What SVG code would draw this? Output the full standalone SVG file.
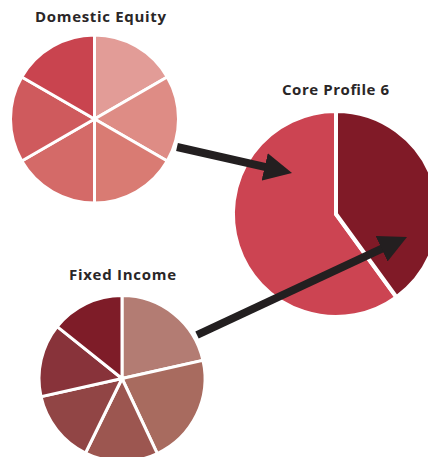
<svg xmlns="http://www.w3.org/2000/svg" width="428" height="457" viewBox="0 0 428 457">
<style>
.title{font-family:"Open Sans","Liberation Sans",sans-serif;font-weight:700;font-size:15px;fill:#2a2627;text-anchor:middle}
.s3{stroke:#fff;stroke-width:3;stroke-linejoin:miter}
.s4{stroke:#fff;stroke-width:4;stroke-linejoin:miter}
.conn{stroke:#231f20;stroke-width:8;fill:none;marker-end:url(#head)}
</style>
<defs>
<marker id="head" viewBox="0 0 28 28" refX="8" refY="14" markerWidth="28" markerHeight="28" markerUnits="userSpaceOnUse" orient="auto">
<path d="M0,0 L28,14 L0,28 Z" fill="#231f20"/>
</marker>
</defs>
<rect width="428" height="457" fill="#fff"/>
<g id="domestic-equity">
<path class="s3" fill="#e29c97" d="M94.5,119 L94.5,35 A84,84 0 0 1 167.25,77 Z"/>
<path class="s3" fill="#de8c85" d="M94.5,119 L167.25,77 A84,84 0 0 1 167.25,161 Z"/>
<path class="s3" fill="#d97b73" d="M94.5,119 L167.25,161 A84,84 0 0 1 94.5,203 Z"/>
<path class="s3" fill="#d46a68" d="M94.5,119 L94.5,203 A84,84 0 0 1 21.75,161 Z"/>
<path class="s3" fill="#cf5a5d" d="M94.5,119 L21.75,161 A84,84 0 0 1 21.75,77 Z"/>
<path class="s3" fill="#c9444f" d="M94.5,119 L21.75,77 A84,84 0 0 1 94.5,35 Z"/>
<text class="title" x="100.5" y="22" textLength="131" lengthAdjust="spacing">Domestic Equity</text>
</g>
<g id="core-profile-6">
<path class="s4" fill="#cc4452" d="M336,214 L396.5,297.3 A103,103 0 1 1 336,111 Z"/>
<path class="s4" fill="#801a27" d="M336,214 L336,111 A103,103 0 0 1 396.5,297.3 Z"/>
<text class="title" x="335.5" y="95" textLength="107" lengthAdjust="spacing">Core Profile 6</text>
</g>
<g id="fixed-income">
<path class="s3" fill="#b37c73" d="M122,378.5 L122,295.5 A83,83 0 0 1 203,360.4 Z"/>
<path class="s3" fill="#a86b5f" d="M122,378.5 L203,360.4 A83,83 0 0 1 157.3,453.6 Z"/>
<path class="s3" fill="#9c5650" d="M122,378.5 L157.3,453.6 A83,83 0 0 1 85.5,453 Z"/>
<path class="s3" fill="#914545" d="M122,378.5 L85.5,453 A83,83 0 0 1 41,396.6 Z"/>
<path class="s3" fill="#88333a" d="M122,378.5 L41,396.6 A83,83 0 0 1 57.2,326.6 Z"/>
<path class="s3" fill="#7e1c28" d="M122,378.5 L57.2,326.6 A83,83 0 0 1 122,295.5 Z"/>
<text class="title" x="122.5" y="280" textLength="107" lengthAdjust="spacing">Fixed Income</text>
</g>
<g id="connectors">
<path class="conn" d="M177,147 L272.5,168.6"/>
<path class="conn" d="M197,335 L388.9,245.4"/>
</g>
</svg>
